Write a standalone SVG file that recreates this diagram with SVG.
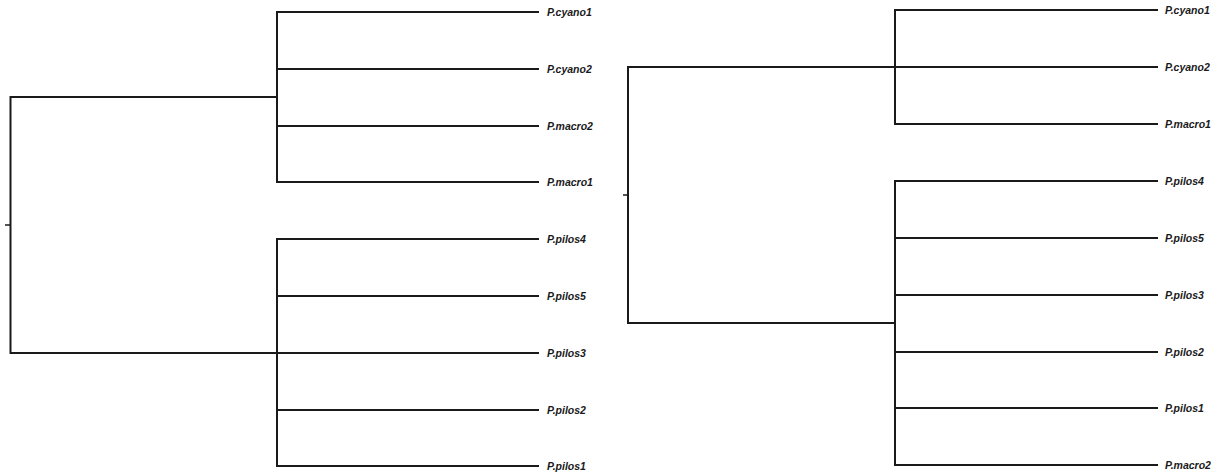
<svg xmlns="http://www.w3.org/2000/svg" width="1218" height="475" viewBox="0 0 1218 475">
<style>
.c{fill:none;stroke:#1a1a1a;stroke-width:2;stroke-linecap:square;stroke-linejoin:miter}
.t{fill:none;stroke:#1a1a1a;stroke-width:1.5}
.l{font-family:"Liberation Sans",Arial,sans-serif;font-size:10.5px;font-weight:bold;font-style:italic;fill:#1a1a1a}
</style>
<rect width="1218" height="475" fill="#fff"/>
<g id="connectors">
<path class="t" d="M5 225H10.5"/>
<path class="c" d="M10.5 97V353M10.5 97H277M10.5 353H277"/>
<path class="c" d="M277 12V182M277 12H538M277 69H538M277 126H538M277 182H538"/>
<path class="c" d="M277 239V466M277 239H538M277 296H538M277 353H538M277 410H538M277 466H538"/>
<path class="t" d="M623 195H628"/>
<path class="c" d="M628 67V323M628 67H895M628 323H895"/>
<path class="c" d="M895 10V124M895 10H1157M895 67H1157M895 124H1157"/>
<path class="c" d="M895 181V465M895 181H1157M895 238H1157M895 295H1157M895 352H1157M895 408H1157M895 465H1157"/>
</g>
<g id="left-leaves">
<g id="L-cyano1"><text class="l" x="547" y="16">P.cyano1</text></g>
<g id="L-cyano2"><text class="l" x="547" y="73">P.cyano2</text></g>
<g id="L-macro2"><text class="l" x="547" y="130">P.macro2</text></g>
<g id="L-macro1"><text class="l" x="547" y="186">P.macro1</text></g>
<g id="L-pilos4"><text class="l" x="547" y="243">P.pilos4</text></g>
<g id="L-pilos5"><text class="l" x="547" y="300">P.pilos5</text></g>
<g id="L-pilos3"><text class="l" x="547" y="357">P.pilos3</text></g>
<g id="L-pilos2"><text class="l" x="547" y="414">P.pilos2</text></g>
<g id="L-pilos1"><text class="l" x="547" y="470">P.pilos1</text></g>
</g>
<g id="right-leaves">
<g id="R-cyano1"><text class="l" x="1165" y="14">P.cyano1</text></g>
<g id="R-cyano2"><text class="l" x="1165" y="71">P.cyano2</text></g>
<g id="R-macro1"><text class="l" x="1165" y="128">P.macro1</text></g>
<g id="R-pilos4"><text class="l" x="1165" y="185">P.pilos4</text></g>
<g id="R-pilos5"><text class="l" x="1165" y="242">P.pilos5</text></g>
<g id="R-pilos3"><text class="l" x="1165" y="299">P.pilos3</text></g>
<g id="R-pilos2"><text class="l" x="1165" y="356">P.pilos2</text></g>
<g id="R-pilos1"><text class="l" x="1165" y="412">P.pilos1</text></g>
<g id="R-macro2"><text class="l" x="1165" y="469">P.macro2</text></g>
</g>
</svg>
